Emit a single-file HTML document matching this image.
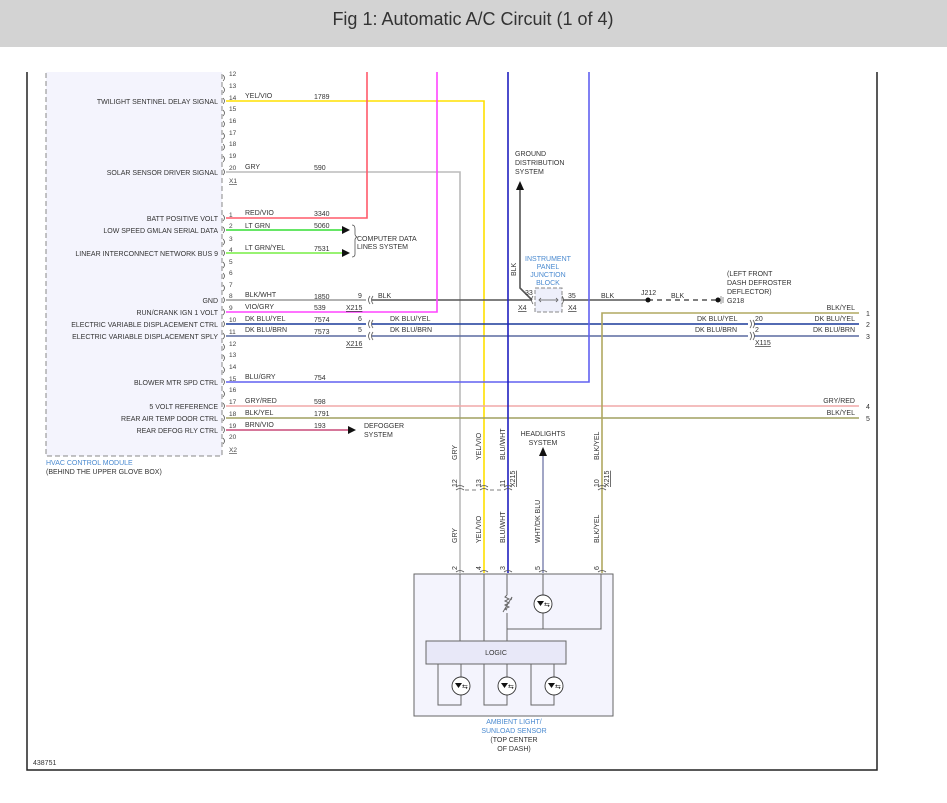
<!DOCTYPE html>
<html><head><meta charset="utf-8"><style>
html,body{margin:0;padding:0;background:#fff}
svg{display:block;font-family:"Liberation Sans",sans-serif}
</style></head><body>
<svg width="947" height="803" viewBox="0 0 947 803" xmlns="http://www.w3.org/2000/svg">
<rect x="0" y="0" width="947" height="47" fill="#d3d3d3"/>
<text x="473" y="25" font-size="18" fill="#333" text-anchor="middle" font-family="Liberation Sans Narrow,Liberation Sans,sans-serif">Fig 1: Automatic A/C Circuit (1 of 4)</text>
<!-- frame -->
<path d="M27 72 V770 H877 V72" fill="none" stroke="#222" stroke-width="1.5"/>
<text x="33" y="765" font-size="7" fill="#333">438751</text>
<!-- module -->
<rect x="46" y="66" width="176" height="390" fill="#f4f4fd" stroke="#888" stroke-dasharray="5,3"/>
<rect x="40" y="60" width="190" height="12" fill="#fff"/>
<text x="46" y="465" font-size="7" fill="#4a8ad0">HVAC CONTROL MODULE</text>
<text x="46" y="474" font-size="7" fill="#333">(BEHIND THE UPPER GLOVE BOX)</text>
<g font-size="7" fill="#333" text-anchor="end">
<text x="218" y="104">TWILIGHT SENTINEL DELAY SIGNAL</text>
<text x="218" y="175">SOLAR SENSOR DRIVER SIGNAL</text>
<text x="218" y="221">BATT POSITIVE VOLT</text>
<text x="218" y="233">LOW SPEED GMLAN SERIAL DATA</text>
<text x="218" y="256">LINEAR INTERCONNECT NETWORK BUS 9</text>
<text x="218" y="303">GND</text>
<text x="218" y="315">RUN/CRANK IGN 1 VOLT</text>
<text x="218" y="327">ELECTRIC VARIABLE DISPLACEMENT CTRL</text>
<text x="218" y="339">ELECTRIC VARIABLE DISPLACEMENT SPLY</text>
<text x="218" y="385">BLOWER MTR SPD CTRL</text>
<text x="218" y="409">5 VOLT REFERENCE</text>
<text x="218" y="421">REAR AIR TEMP DOOR CTRL</text>
<text x="218" y="433">REAR DEFOG RLY CTRL</text>
</g>
<g font-size="6.5" fill="#444">
<text x="229" y="76">12</text><text x="229" y="88">13</text><text x="229" y="100">14</text><text x="229" y="111">15</text><text x="229" y="123">16</text><text x="229" y="135">17</text><text x="229" y="146">18</text><text x="229" y="158">19</text><text x="229" y="170">20</text>
<text x="229" y="217">1</text><text x="229" y="228">2</text><text x="229" y="241">3</text><text x="229" y="252">4</text><text x="229" y="264">5</text><text x="229" y="275">6</text><text x="229" y="287">7</text><text x="229" y="298">8</text><text x="229" y="310">9</text><text x="229" y="322">10</text><text x="229" y="334">11</text><text x="229" y="346">12</text><text x="229" y="357">13</text><text x="229" y="369">14</text><text x="229" y="381">15</text><text x="229" y="392">16</text><text x="229" y="404">17</text><text x="229" y="416">18</text><text x="229" y="428">19</text><text x="229" y="439">20</text>
<text x="229" y="183" text-decoration="underline">X1</text>
<text x="229" y="452" text-decoration="underline">X2</text>
</g>
<g fill="none" stroke="#555" stroke-width="0.8">
<path d="M223 75 q3 3 0 6 M223 87 q3 3 0 6 M223 98 q3 3 0 6 M223 110 q3 3 0 6 M223 121 q3 3 0 6 M223 133 q3 3 0 6 M223 144 q3 3 0 6 M223 156 q3 3 0 6 M223 169 q3 3 0 6"/>
<path d="M223 215 q3 3 0 6 M223 227 q3 3 0 6 M223 239 q3 3 0 6 M223 250 q3 3 0 6 M223 262 q3 3 0 6 M223 273 q3 3 0 6 M223 285 q3 3 0 6 M223 297 q3 3 0 6 M223 309 q3 3 0 6 M223 321 q3 3 0 6 M223 333 q3 3 0 6 M223 344 q3 3 0 6 M223 355 q3 3 0 6 M223 367 q3 3 0 6 M223 379 q3 3 0 6 M223 391 q3 3 0 6 M223 403 q3 3 0 6 M223 415 q3 3 0 6 M223 427 q3 3 0 6 M223 438 q3 3 0 6"/>
</g>
<!-- wires -->
<g fill="none" stroke-width="1.6">
<path d="M226 101 H484 V573" stroke="#ffe000"/>
<path d="M226 172 H460 V573" stroke="#bbb"/>
<path d="M226 218 H367 V72" stroke="#ff5a6a"/>
<path d="M226 230 H342" stroke="#33dd33"/>
<path d="M226 253 H342" stroke="#77ee44"/>
<path d="M226 300 H366" stroke="#999"/>
<path d="M372 300 H532 M563 300 H648" stroke="#555"/>
<path d="M648 300 H718" stroke="#555" stroke-dasharray="5,4"/>
<path d="M226 312 H437 V72" stroke="#ff44ff"/>
<path d="M226 324 H366 M372 324 H748 M754 324 H859" stroke="#1a3a9a"/>
<path d="M226 336 H366 M372 336 H748 M754 336 H859" stroke="#5a6aa0"/>
<path d="M226 382 H589 V72" stroke="#6060f0"/>
<path d="M226 406 H859" stroke="#f0a8a8"/>
<path d="M226 418 H859" stroke="#a0a060"/>
<path d="M226 430 H348" stroke="#c84a78"/>
<path d="M859 313 H602 V573" stroke="#b0a860"/>
<path d="M508 72 V573" stroke="#2020c0"/>
<path d="M543 573 V456" stroke="#8a90b8"/>
<path d="M520 188 V288 L532 300" stroke="#555"/>
</g>
<!-- arrows -->
<g fill="#111">
<path d="M342 226 L350 230 L342 234Z"/><path d="M342 249 L350 253 L342 257Z"/>
<path d="M348 426 L356 430 L348 434Z"/>
<path d="M516 190 L520 181 L524 190Z"/>
<path d="M539 456 L543 447 L547 456Z"/>
<circle cx="648" cy="300" r="2.5"/><circle cx="718" cy="300" r="2.5"/>
<circle cx="507" cy="629" r="2"/><circle cx="543" cy="629" r="2"/>
</g>
<path d="M721 296 V304 M723 297 V303" stroke="#777" stroke-width="0.8"/>
<path d="M352 225 q3 0 3 4 v5 q0 2 2 3 q-2 1 -2 3 v14 q0 3 -3 3" fill="none" stroke="#555" stroke-width="0.8"/>
<!-- connectors -->
<rect x="535" y="288" width="27" height="24" fill="#eef0fb" stroke="#888" stroke-dasharray="4,2"/>
<g fill="none" stroke="#555" stroke-width="0.8">
<path d="M370 296 q-3 4 0 8 M373 296 q-3 4 0 8 M370 320 q-3 4 0 8 M373 320 q-3 4 0 8 M370 332 q-3 4 0 8 M373 332 q-3 4 0 8"/>
<path d="M750 320 q3 4 0 8 M753 320 q3 4 0 8 M750 332 q3 4 0 8 M753 332 q3 4 0 8"/>
<path d="M533 296 q-3 4 0 8 M562 296 q3 4 0 8 M540 300 H557 M541 298 l-2 2 2 2 M556 298 l2 2 -2 2"/>
<path d="M456 487 q4 -3 8 0 M456 490 q4 -3 8 0 M480 487 q4 -3 8 0 M480 490 q4 -3 8 0 M504 487 q4 -3 8 0 M504 490 q4 -3 8 0 M598 487 q4 -3 8 0 M598 490 q4 -3 8 0"/>
<path d="M465 490 H478 M490 490 H502" stroke-dasharray="4,3"/>
<path d="M456 572 q4 -3 8 0 M480 572 q4 -3 8 0 M504 572 q4 -3 8 0 M539 572 q4 -3 8 0 M598 572 q4 -3 8 0"/>
</g>
<!-- wire labels -->
<g font-size="7" fill="#333">
<text x="245" y="98">YEL/VIO</text><text x="314" y="99">1789</text>
<text x="245" y="169">GRY</text><text x="314" y="170">590</text>
<text x="245" y="215">RED/VIO</text><text x="314" y="216">3340</text>
<text x="245" y="228">LT GRN</text><text x="314" y="228">5060</text>
<text x="245" y="250">LT GRN/YEL</text><text x="314" y="251">7531</text>
<text x="357" y="241">COMPUTER DATA</text><text x="357" y="249">LINES SYSTEM</text>
<text x="245" y="297">BLK/WHT</text><text x="314" y="299">1850</text><text x="358" y="298">9</text><text x="378" y="298">BLK</text>
<text x="245" y="309">VIO/GRY</text><text x="314" y="310">539</text><text x="346" y="310" text-decoration="underline">X215</text>
<text x="245" y="321">DK BLU/YEL</text><text x="314" y="322">7574</text><text x="358" y="321">6</text><text x="390" y="321">DK BLU/YEL</text>
<text x="245" y="332">DK BLU/BRN</text><text x="314" y="334">7573</text><text x="358" y="332">5</text><text x="390" y="332">DK BLU/BRN</text>
<text x="346" y="346" text-decoration="underline">X216</text>
<text x="245" y="379">BLU/GRY</text><text x="314" y="380">754</text>
<text x="245" y="403">GRY/RED</text><text x="314" y="404">598</text>
<text x="245" y="415">BLK/YEL</text><text x="314" y="416">1791</text>
<text x="245" y="427">BRN/VIO</text><text x="314" y="428">193</text>
<text x="364" y="428">DEFOGGER</text><text x="364" y="437">SYSTEM</text>
<text x="515" y="156">GROUND</text><text x="515" y="165">DISTRIBUTION</text><text x="515" y="174">SYSTEM</text>
<text x="525" y="295">33</text><text x="518" y="310" text-decoration="underline">X4</text>
<text x="568" y="298">35</text><text x="568" y="310" text-decoration="underline">X4</text>
<text x="601" y="298">BLK</text><text x="641" y="295">J212</text><text x="671" y="298">BLK</text>
<text x="727" y="276">(LEFT FRONT</text><text x="727" y="285">DASH DEFROSTER</text><text x="727" y="294">DEFLECTOR)</text><text x="727" y="303">G218</text>
<text x="697" y="321">DK BLU/YEL</text><text x="695" y="332">DK BLU/BRN</text>
<text x="755" y="321">20</text><text x="755" y="332">2</text><text x="755" y="345" text-decoration="underline">X115</text>
<g text-anchor="end"><text x="855" y="310">BLK/YEL</text><text x="855" y="321">DK BLU/YEL</text><text x="855" y="332">DK BLU/BRN</text><text x="855" y="403">GRY/RED</text><text x="855" y="415">BLK/YEL</text></g>
<text x="866" y="316">1</text><text x="866" y="327">2</text><text x="866" y="339">3</text><text x="866" y="409">4</text><text x="866" y="421">5</text>
<text x="543" y="436" text-anchor="middle">HEADLIGHTS</text><text x="543" y="445" text-anchor="middle">SYSTEM</text>
</g>
<g font-size="7" fill="#4a8ad0" text-anchor="middle">
<text x="548" y="261">INSTRUMENT</text><text x="548" y="269">PANEL</text><text x="548" y="277">JUNCTION</text><text x="548" y="285">BLOCK</text>
<text x="514" y="724">AMBIENT LIGHT/</text><text x="514" y="733">SUNLOAD SENSOR</text>
</g>
<g font-size="7" fill="#333" text-anchor="middle"><text x="514" y="742">(TOP CENTER</text><text x="514" y="751">OF DASH)</text></g>
<!-- rotated labels -->
<g font-size="7" fill="#333">
<text transform="translate(516,276) rotate(-90)">BLK</text>
<text transform="translate(457,460) rotate(-90)">GRY</text>
<text transform="translate(481,460) rotate(-90)">YEL/VIO</text>
<text transform="translate(505,460) rotate(-90)">BLU/WHT</text>
<text transform="translate(599,460) rotate(-90)">BLK/YEL</text>
<text transform="translate(457,487) rotate(-90)">12</text>
<text transform="translate(481,487) rotate(-90)">13</text>
<text transform="translate(505,487) rotate(-90)">11</text>
<text transform="translate(599,487) rotate(-90)">10</text>
<text transform="translate(515,487) rotate(-90)" text-decoration="underline">X215</text>
<text transform="translate(609,487) rotate(-90)" text-decoration="underline">X215</text>
<text transform="translate(457,543) rotate(-90)">GRY</text>
<text transform="translate(481,543) rotate(-90)">YEL/VIO</text>
<text transform="translate(505,543) rotate(-90)">BLU/WHT</text>
<text transform="translate(540,543) rotate(-90)">WHT/DK BLU</text>
<text transform="translate(599,543) rotate(-90)">BLK/YEL</text>
<text transform="translate(457,570) rotate(-90)">2</text>
<text transform="translate(481,570) rotate(-90)">4</text>
<text transform="translate(505,570) rotate(-90)">3</text>
<text transform="translate(540,570) rotate(-90)">5</text>
<text transform="translate(599,570) rotate(-90)">6</text>
</g>
<!-- sensor -->
<rect x="414" y="574" width="199" height="142" fill="#f4f4fd" stroke="#666"/>
<g fill="none" stroke="#666" stroke-width="1">
<path d="M460 574 V641 M484 574 V641 M507 574 V595 M507 613 V641 M543 574 V629 M601 574 V629 H507"/>
<path d="M507 595 l-2 2 4 2 -4 2 4 2 -4 2 4 2 -4 2 2 1 M503 612 l9 -15 M512 597 l-1 3"/>
<path d="M438 664 V705 H461 V664 M484 664 V705 H507 V664 M531 664 V705 H554 V664"/>
</g>
<rect x="426" y="641" width="140" height="23" fill="#e8e8f8" stroke="#666"/>
<text x="496" y="655" font-size="7" fill="#333" text-anchor="middle">LOGIC</text>
<g fill="#fff" stroke="#333" stroke-width="0.9">
<circle cx="543" cy="604" r="9"/><circle cx="461" cy="686" r="9"/><circle cx="507" cy="686" r="9"/><circle cx="554" cy="686" r="9"/>
</g>
<g fill="#111" font-size="7">
<path d="M537 601 h7 l-3.5 5z M537 606 h7"/><path d="M455 683 h7 l-3.5 5z"/><path d="M501 683 h7 l-3.5 5z"/><path d="M548 683 h7 l-3.5 5z"/>
<text x="544" y="607">⇆</text><text x="462" y="689">⇆</text><text x="508" y="689">⇆</text><text x="555" y="689">⇆</text>
</g>
</svg>
</body></html>
